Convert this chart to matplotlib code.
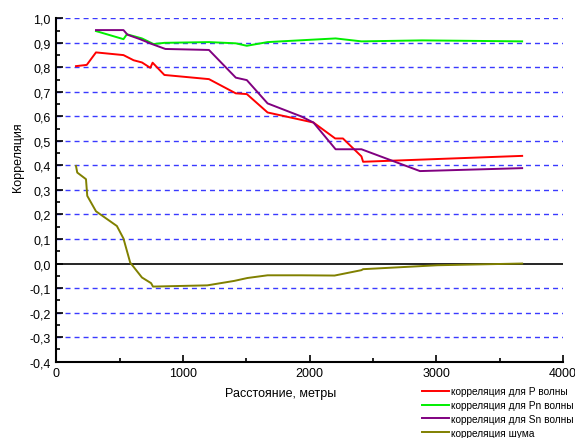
import numpy as np
import matplotlib
matplotlib.use("Agg")
import matplotlib.pyplot as plt
from matplotlib.ticker import MultipleLocator, FuncFormatter

plt.rcParams['font.family'] = ['Liberation Sans', 'DejaVu Sans']

# P wave
p_x = [155, 240, 313, 530, 610, 676, 742, 760, 853, 1205, 1417, 1504, 1668, 1933,
       2030, 2202, 2263, 2409, 2422, 3678]
p_y = [0.805, 0.81, 0.861, 0.85, 0.829, 0.82, 0.798, 0.819, 0.769, 0.752, 0.694, 0.691,
       0.616, 0.586, 0.575, 0.51, 0.51, 0.437, 0.415, 0.439]

# Pn wave
pn_x = [313, 530, 557, 676, 768, 853, 1205, 1417, 1504, 1668, 1773, 2205, 2409, 2888, 3678]
pn_y = [0.948, 0.915, 0.935, 0.918, 0.895, 0.90, 0.903, 0.898, 0.888, 0.903, 0.906,
        0.918, 0.906, 0.910, 0.906]

# Sn wave
sn_x = [313, 530, 562, 660, 755, 861, 1205, 1417, 1504, 1668, 1933, 2030, 2205, 2409,
        2871, 3678]
sn_y = [0.952, 0.952, 0.933, 0.915, 0.895, 0.875, 0.871, 0.758, 0.748, 0.653, 0.60,
        0.575, 0.466, 0.466, 0.377, 0.389]

# noise
n_x = [155, 165, 234, 244, 313, 478, 530, 583, 676, 748, 763, 1192, 1403, 1509, 1668,
       1933, 2197, 2409, 2422, 3009, 3678]
n_y = [0.398, 0.371, 0.344, 0.276, 0.213, 0.153, 0.102, 0.004, -0.057, -0.080, -0.094,
       -0.089, -0.071, -0.059, -0.048, -0.048, -0.049, -0.027, -0.023, -0.007, 0.0]

labels = ['корреляция для P волны', 'корреляция для Pn волны',
          'корреляция для Sn волны', 'корреляция шума']

fig = plt.figure(figsize=(5.75, 4.39), dpi=100)
ax = fig.add_axes([0.098, 0.174, 0.881, 0.782])

for yv in np.arange(-0.3, 1.01, 0.1):
    if abs(yv) < 1e-9:
        continue
    ax.axhline(yv, color='#3a3aff', lw=1.0, dashes=(3.6, 2.9), zorder=1)
ax.axhline(0, color='black', lw=1.2, zorder=2)

ax.plot(p_x, p_y, color='#ff0000', lw=1.4, label=labels[0], zorder=3)
ax.plot(pn_x, pn_y, color='#00ee00', lw=1.4, label=labels[1], zorder=3)
ax.plot(sn_x, sn_y, color='#800080', lw=1.4, label=labels[2], zorder=3)
ax.plot(n_x, n_y, color='#808000', lw=1.4, label=labels[3], zorder=3)

ax.set_xlim(0, 4000)
ax.set_ylim(-0.4, 1.0)
ax.spines['top'].set_visible(False)
ax.spines['right'].set_visible(False)
ax.spines['left'].set_linewidth(1.5)
ax.spines['bottom'].set_linewidth(1.5)

ax.xaxis.set_major_locator(MultipleLocator(1000))
ax.xaxis.set_minor_locator(MultipleLocator(500))
ax.yaxis.set_major_locator(MultipleLocator(0.1))
ax.yaxis.set_minor_locator(MultipleLocator(0.05))
ax.yaxis.set_major_formatter(FuncFormatter(lambda v, p: f'{v:.1f}'.replace('.', ',').replace('-0,0', '0,0')))
ax.tick_params(which='both', direction='in', width=1.2, labelsize=9, pad=4)
ax.tick_params(which='major', length=5)
ax.tick_params(which='minor', length=3)

ax.set_xlabel('Расстояние, метры', fontsize=9)
ax.xaxis.set_label_coords((281 - 56.5) / 506, -0.075)
ax.set_ylabel('Корреляция', fontsize=9)
ax.yaxis.set_label_coords(-0.064, (362.7 - 157) / 343.4)

fig.legend(loc='upper left', bbox_to_anchor=(0.734, 0.118), frameon=False,
           fontsize=7.3, handlelength=2.7, handletextpad=0.2, labelspacing=0.38,
           borderpad=0, borderaxespad=0)

fig.savefig('out.png', dpi=100)
